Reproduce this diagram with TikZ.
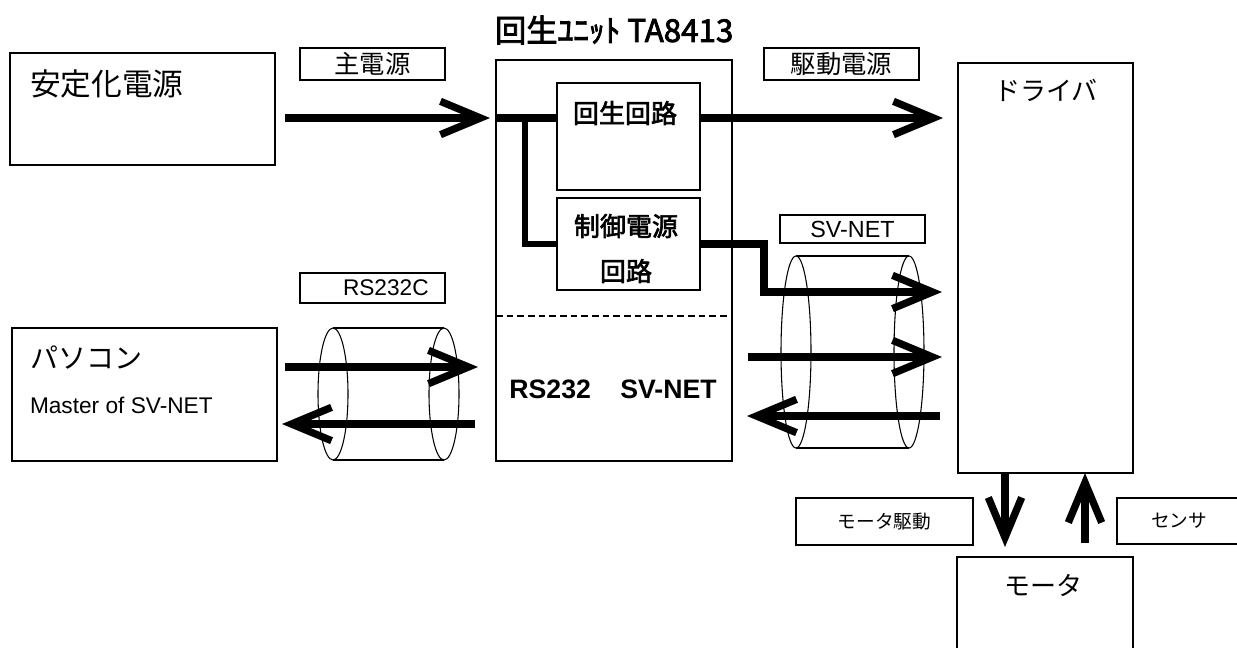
\documentclass[tikz,border=0pt]{standalone}
\usepackage{fontspec}
\setmainfont{Liberation Sans}
\newfontfamily\jp[AutoFakeBold=2.5]{Noto Sans CJK JP}
\usetikzlibrary{arrows.meta}

\tikzset{
  box/.style 2 args={draw, line width=1.8pt, inner sep=0pt, outer sep=0pt, anchor=north west,
    minimum width=#1*0.75pt, minimum height=#2*0.75pt},
  tag/.style 2 args={draw, line width=1.1pt, inner sep=0pt, outer sep=0pt, anchor=north west,
    minimum width=#1*0.75pt, minimum height=#2*0.75pt, font=\jp\fontsize{19}{22}\selectfont},
  txt/.style={inner sep=0pt, outer sep=0pt},
  bus/.style={line width=5.5pt},
  tap/.style={line width=4pt},
  flow/.style={line width=5.5pt, -{Straight Barb[length=30pt,width=25pt]}},
  gap/.style={shorten >=#1*0.75pt},
  cable/.style={line width=0.8pt},
}

\begin{document}
\begin{tikzpicture}[x=0.75pt,y=0.75pt,yscale=-1,xscale=1]
  \clip (0,0) rectangle (1237,647);

  %Blocks
  \node[box={265}{112}] (psu) at (10,53) {};
  \node[box={265}{133}] (pc) at (12,328) {};
  \node[box={236}{401}] (unit) at (496,60) {};
  \node[box={143}{107}] (regen) at (557,83) {};
  \node[box={143}{92}] (ctl) at (557,198) {};
  \node[box={175}{410}] (drv) at (958,63) {};
  \node[box={176}{110}] (mot) at (957,557) {};

  %Labels on the lines
  \node[tag={145}{32}] (lbl-main) at (300,48) {主電源};
  \node[tag={155}{32}] (lbl-drive) at (764,48) {駆動電源};
  \node[tag={145}{30}, font=\fontsize{17}{20}\selectfont] (lbl-rs) at (300,273) {\hspace*{20pt}RS232C};
  \node[tag={145}{28}, font=\fontsize{17.5}{20}\selectfont] (lbl-sv) at (780,215) {SV-NET};
  \node[tag={177}{47}, font=\jp\fontsize{14}{17}\selectfont] (lbl-mdrv) at (796,498) {モータ駆動};
  \node[tag={140}{46}, font=\jp\fontsize{14}{17}\selectfont] (lbl-sens) at (1117,498) {\hspace*{-12pt}センサ};

  % Text Node
  \node[txt, anchor=west] (title) at (495,30) {\jp\bfseries\fontsize{23.5}{28}\selectfont 回生ﾕﾆｯﾄ TA8413};
  \node[txt, anchor=west] (psu-t) at (30,84) {\jp\fontsize{23}{27}\selectfont 安定化電源};
  \node[txt, anchor=west] (pc-t) at (30,358) {\jp\fontsize{21}{25}\selectfont パソコン};
  \node[txt, anchor=west] (pc-t2) at (30,405) {\fontsize{17}{20}\selectfont Master of SV-NET};
  \node[txt] (regen-t) at (625,113) {\jp\bfseries\fontsize{19.5}{23}\selectfont 回生回路};
  \node[txt] (ctl-t1) at (626,226) {\jp\bfseries\fontsize{19.5}{23}\selectfont 制御電源};
  \node[txt] (ctl-t2) at (626,271) {\jp\bfseries\fontsize{19.5}{23}\selectfont 回路};
  \node[txt] (if-t) at (613,389) {\bfseries\fontsize{20}{24}\selectfont RS232\hspace{22pt}SV-NET};
  \node[txt] (drv-t) at (1046,90) {\jp\fontsize{19.5}{23}\selectfont ドライバ};
  \node[txt] (mot-t) at (1043,585) {\jp\fontsize{19.5}{23}\selectfont モータ};

  %Dashed split of the unit
  \draw[dashed, line width=1pt, dash pattern=on 5pt off 3pt] (unit.west |- 0,316) -- (unit.east |- 0,316);

  %Cables
  \draw[cable] (333,394) ellipse [x radius=15, y radius=66];
  \draw[cable] (444,394) ellipse [x radius=15, y radius=66];
  \draw[cable] (333,328) -- (444,328) (333,460) -- (444,460);
  \draw[cable] (796,352) ellipse [x radius=15, y radius=96];
  \draw[cable] (909,352) ellipse [x radius=15, y radius=96];
  \draw[cable] (796,256) -- (909,256) (796,448) -- (909,448);

  %Power
  \coordinate (psu-out) at (285,118);
  \coordinate (jn) at (525,118);
  \draw[bus] (unit.west |- psu-out) -- (regen.west |- psu-out);
  \draw[flow, gap=6] (psu-out) -- (unit.west |- psu-out);
  \draw[tap] (jn) |- (ctl.west);
  \draw[flow, gap=15] (regen.east |- psu-out) -- (drv.west |- psu-out);

  %SV-NET
  \coordinate (bend) at (764,292);
  \coordinate (sv-tx) at (748,357);
  \coordinate (sv-rx) at (940,416);
  \draw[flow, gap=16] (ctl.east) -| (bend) -- (drv.west |- bend);
  \draw[flow, gap=16] (sv-tx) -- (drv.west |- sv-tx);
  \draw[flow, gap=15] (sv-rx) -- (unit.east |- sv-rx);

  %RS232C
  \coordinate (rs-tx) at (285,367);
  \coordinate (rs-rx) at (475,424);
  \draw[flow, gap=18] (rs-tx) -- (unit.west |- rs-tx);
  \draw[flow, gap=5] (rs-rx) -- (pc.east |- rs-rx);

  %Motor
  \coordinate (m-dn) at (1005,473);
  \coordinate (m-up) at (1085,543);
  \draw[flow, gap=10] (m-dn) -- (mot.north -| m-dn);
  \draw[flow] (m-up) -- (drv.south -| m-up);
\end{tikzpicture}
\end{document}
